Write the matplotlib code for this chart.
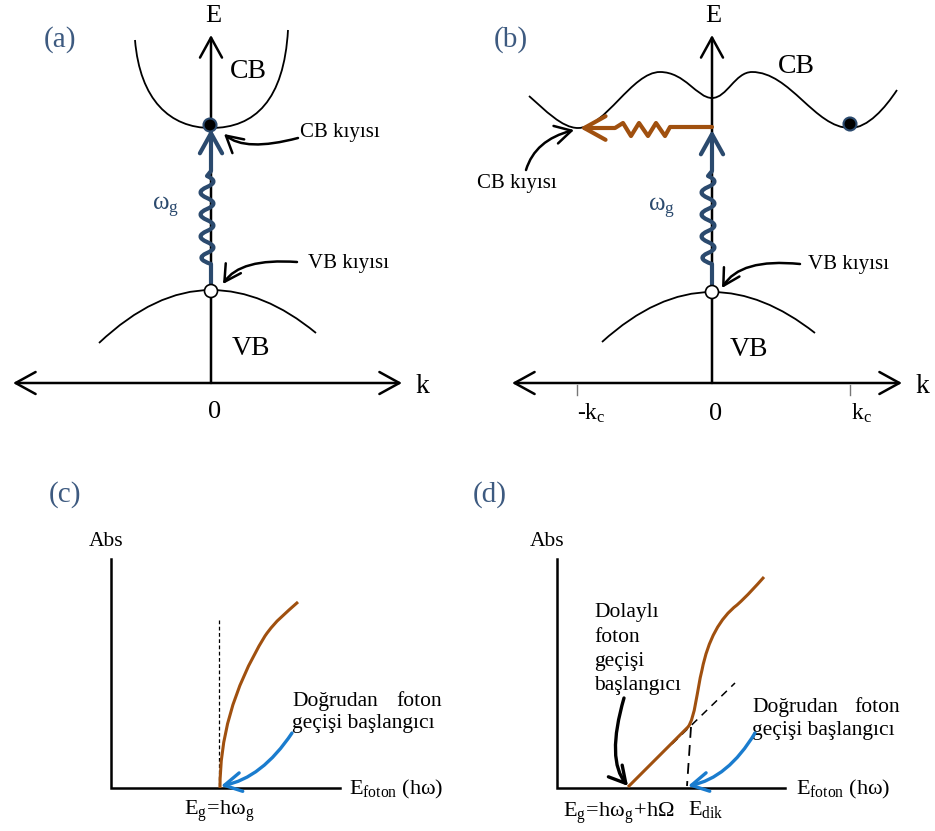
import numpy as np
import matplotlib.pyplot as plt
from matplotlib.path import Path
from matplotlib.patches import FancyArrowPatch, PathPatch, Circle

plt.rcParams['font.family'] = ['Liberation Serif', 'DejaVu Serif']
plt.rcParams['mathtext.fontset'] = 'custom'
plt.rcParams['mathtext.rm'] = 'Liberation Serif'
plt.rcParams['mathtext.it'] = 'Liberation Serif'

navy = '#2b4a6e'
brown = '#a0500f'
blue = '#1a7cce'
lab = '#3d5a80'

# --- band curves (pixel coords of the schematic), bezier control points ---
cb_a = [(135, 40), (140, 100), (170, 128), (211, 128), (255, 128), (284, 100), (288, 30)]
vb_a = [(99, 343), (155, 290), (211, 290), (264, 290), (316, 333)]
cb_b = [(529, 96), (545, 110), (562, 128), (578, 128),
        (605, 128), (632, 72), (660, 72),
        (685, 72), (697, 98), (712, 98),
        (727, 98), (735, 72), (752, 72),
        (790, 72), (815, 128), (850, 128),
        (868, 128), (885, 108), (897, 90)]
vb_b = [(602, 342), (657, 292), (712, 292), (763, 292), (815, 333)]

# photon waves: straight start, quadratic wiggles (ctrl, on-curve pairs), straight end
wave_y = [264, 253, 242, 231, 220, 209, 198, 187, 176]
wave_side = [-1, 1, -1, 1, -1, 1, -1, 1]
photon_x = {'a': 207, 'b': 708}
photon_base = {'a': (211, 286, 129), 'b': (712, 288, 130)}

phonon_b = [(712, 127), (670, 127), (665, 136), (656, 123), (648, 136), (639, 123),
            (631, 136), (623, 123), (615, 128), (580, 128)]

# absorption curves
abs_c = [(220, 788), (220, 740), (232, 690), (265, 636), (276, 620), (286, 613), (298, 602)]
abs_d = [(628, 787), (688, 727), (695, 718), (697, 690), (702, 670),
         (708, 640), (720, 618), (737, 605), (748, 595), (755, 587), (764, 577)]

# annotation arrows: tail, control, tip
notes_black = [[(298, 138), (245, 152), (224, 134)],
               [(297, 262), (240, 258), (223, 284)],
               [(526, 170), (535, 140), (574, 130)],
               [(800, 264), (740, 258), (722, 288)],
               [(624, 698), (606, 760), (628, 786)]]
notes_blue = [[(292, 733), (262, 778), (221, 786)],
              [(755, 733), (728, 778), (688, 786)]]

fig = plt.figure(figsize=(9.35, 8.31), dpi=100)
ax = fig.add_axes([0, 0, 1, 1])
ax.set_xlim(0, 935)
ax.set_ylim(831, 0)
ax.axis('off')


def bez(pts, order, color='black', lw=1.3, ls='-', z=2):
    code = Path.CURVE4 if order == 3 else Path.CURVE3
    codes = [Path.MOVETO] + [code] * (len(pts) - 1)
    ax.add_patch(PathPatch(Path(pts, codes), fill=False, color=color, lw=lw, ls=ls, zorder=z))


def arrow_path(pts, color, lw, ms=30, z=4, curve=False, codes=None):
    if codes is None:
        code = Path.CURVE3 if curve else Path.LINETO
        codes = [Path.MOVETO] + [code] * (len(pts) - 1)
    a = FancyArrowPatch(path=Path(pts, codes), arrowstyle='->,head_length=0.45,head_width=0.25',
                        mutation_scale=ms, color=color, lw=lw, zorder=z,
                        joinstyle='round', capstyle='round')
    ax.add_patch(a)


def photon(key):
    x0, ystart, ytip = photon_base[key]
    xc = photon_x[key]
    pts = [(x0, ystart), (x0, wave_y[0])]
    codes = [Path.MOVETO, Path.LINETO]
    for i, s in enumerate(wave_side):
        ym = (wave_y[i] + wave_y[i + 1]) / 2
        pts += [(xc + s * 13, ym), (xc, wave_y[i + 1])]
        codes += [Path.CURVE3, Path.CURVE3]
    pts += [(x0, wave_y[-1] - 5), (x0, ytip)]
    codes += [Path.LINETO, Path.LINETO]
    arrow_path(pts, navy, 3.0, ms=32, codes=codes)


def axis_arrow(p0, p1, lw=1.8):
    ax.add_patch(FancyArrowPatch(p0, p1, arrowstyle='->,head_length=0.4,head_width=0.22',
                                 mutation_scale=36, color='black', lw=lw,
                                 shrinkA=0, shrinkB=0, zorder=3))


# ---------------- (a) ----------------
axis_arrow((211, 383), (211, 35))
ax.add_patch(FancyArrowPatch((13, 383), (402, 383), arrowstyle='<->,head_length=0.4,head_width=0.22',
                             mutation_scale=36, color='black', lw=1.8, shrinkA=0, shrinkB=0))
bez(cb_a, 3)
bez(vb_a, 2)
photon('a')
ax.add_patch(Circle((210, 125), 6.5, fc='black', ec=navy, lw=1.5, zorder=6))
ax.add_patch(Circle((211, 291), 6.5, fc='white', ec='black', lw=1.2, zorder=6))

# ---------------- (b) ----------------
axis_arrow((712, 383), (712, 35))
ax.add_patch(FancyArrowPatch((512, 383), (902, 383), arrowstyle='<->,head_length=0.4,head_width=0.22',
                             mutation_scale=36, color='black', lw=1.8, shrinkA=0, shrinkB=0))
for xt in [577, 850]:
    ax.plot([xt, xt], [385, 395], color='#777777', lw=1)
bez(cb_b, 3)
bez(vb_b, 2)
arrow_path(phonon_b, brown, 3.0, ms=34)
photon('b')
ax.add_patch(Circle((850, 124), 6.5, fc='black', ec=navy, lw=1.5, zorder=6))
ax.add_patch(Circle((712, 292), 6.5, fc='white', ec='black', lw=1.2, zorder=6))

# ---------------- (c) ----------------
ax.plot([111, 111, 340], [559, 788, 788], color='black', lw=1.8, solid_joinstyle='miter')
ax.plot([219, 219], [620, 786], color='black', lw=0.9, ls=(0, (3, 2)))
bez(abs_c, 3, color=brown, lw=2.2)

# ---------------- (d) ----------------
ax.plot([557, 557, 785], [559, 788, 788], color='black', lw=1.8, solid_joinstyle='miter')
ax.plot([672, 735], [744, 683], color='black', lw=1.1, ls=(0, (5, 4)))
ax.plot([691, 687], [727, 786], color='black', lw=1.3, ls=(0, (6, 4)))
abs_codes = [Path.MOVETO, Path.LINETO] + [Path.CURVE4] * 9
ax.add_patch(PathPatch(Path(abs_d, abs_codes), fill=False, color=brown, lw=2.2, zorder=3))

# annotation arrows
for n in notes_black:
    arrow_path(n, 'black', 1.8 if n[0][1] < 600 else 2.4, ms=26, z=5, curve=True)
for n in notes_blue:
    arrow_path(n, blue, 2.4, ms=27, z=5, curve=True)

# ---------------- text ----------------
for s, x in [('(a)', 44), ('(b)', 494)]:
    ax.text(x, 40, s, fontsize=21, color=lab, va='center', ha='left')
for s, x in [('(c)', 49), ('(d)', 473)]:
    ax.text(x, 495, s, fontsize=21, color=lab, va='center', ha='left')

ax.text(213, 22, 'E', fontsize=19, ha='center', va='baseline')
ax.text(713, 22, 'E', fontsize=19, ha='center', va='baseline')
ax.text(415, 393, 'k', fontsize=20, ha='left', va='baseline')
ax.text(915, 393, 'k', fontsize=20, ha='left', va='baseline')
ax.text(215, 418, '0', fontsize=19, ha='center', va='baseline')
ax.text(716, 420, '0', fontsize=19, ha='center', va='baseline')
ax.text(577, 420, r'-$\mathrm{k_c}$', fontsize=17, ha='left', va='baseline')
ax.text(851, 420, r'$\mathrm{k_c}$', fontsize=17, ha='left', va='baseline')

ax.text(230, 78, 'CB', fontsize=20, va='baseline')
ax.text(232, 355, 'VB', fontsize=20, va='baseline')
ax.text(778, 73, 'CB', fontsize=20, va='baseline')
ax.text(730, 356, 'VB', fontsize=20, va='baseline')

ax.text(300, 137, 'CB kıyısı', fontsize=15, va='baseline')
ax.text(308, 268, 'VB kıyısı', fontsize=15, va='baseline')
ax.text(477, 188, 'CB kıyısı', fontsize=15, va='baseline')
ax.text(808, 269, 'VB kıyısı', fontsize=15, va='baseline')

ax.text(152, 210, r'$\mathrm{ω_g}$', fontsize=18, color=navy, va='baseline')
ax.text(648, 211, r'$\mathrm{ω_g}$', fontsize=18, color=navy, va='baseline')

ax.text(89, 546, 'Abs', fontsize=15.5, va='baseline')
ax.text(530, 546, 'Abs', fontsize=15.5, va='baseline')
ax.text(349, 794, r'$\mathrm{E_{foton}}$ (hω)', fontsize=16, va='baseline')
ax.text(796, 794, r'$\mathrm{E_{foton}}$ (hω)', fontsize=16, va='baseline')
ax.text(184, 815, r'$\mathrm{E_g\!=\!hω_g}$', fontsize=16, va='baseline')
ax.text(563, 817, r'$\mathrm{E_g\!=\!hω_g\!+\!hΩ}$', fontsize=16, va='baseline')
ax.text(688, 815, r'$\mathrm{E_{dik}}$', fontsize=16, va='baseline')

for x0, x1, y0, y1 in [(292, 442, 706, 728), (752, 900, 712, 735)]:
    ax.text(x0, y0, 'Doğrudan', fontsize=15.5, va='baseline', ha='left')
    ax.text(x1, y0, 'foton', fontsize=15.5, va='baseline', ha='right')
    ax.text(x0, y1, 'geçişi başlangıcı', fontsize=15.5, va='baseline', ha='left')

for s, y in [('Dolaylı', 617), ('foton', 642), ('geçişi', 666), ('başlangıcı', 690)]:
    ax.text(594, y, s, fontsize=15.5, va='baseline', ha='left')

fig.savefig('out.png', dpi=100)
